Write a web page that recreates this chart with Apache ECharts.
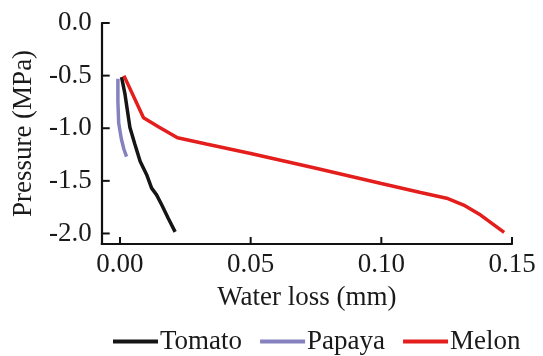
<!DOCTYPE html>
<html><head><meta charset="utf-8">
<script src="https://cdn.jsdelivr.net/npm/echarts@6/dist/echarts.min.js"></script>
<style>html,body{margin:0;padding:0;background:#fff}#c{width:543px;height:356px}</style>
</head><body><div id="c"></div>
<script>
const seriesNames = ["Tomato", "Papaya", "Melon"];
const tomato = [[0.0006,-0.515],[0.0019,-0.674],[0.0038,-0.994],[0.0057,-1.153],[0.0077,-1.313],[0.0102,-1.441],[0.0121,-1.569],[0.0140,-1.633],[0.0160,-1.729],[0.0185,-1.857],[0.0211,-1.985]];
const papaya = [[-0.0008,-0.53],[-0.0008,-0.75],[-0.0005,-0.95],[0.0005,-1.1],[0.0015,-1.2],[0.0025,-1.27]];
const melon = [[0.0015,-0.5],[0.009,-0.9],[0.015,-0.99],[0.022,-1.09],[0.033,-1.15],[0.05,-1.24],[0.075,-1.38],[0.1,-1.525],[0.115,-1.61],[0.125,-1.665],[0.1315,-1.73],[0.138,-1.825],[0.147,-1.99]];
const xTicks = [0, 0.05, 0.10, 0.15];
const yTicks = [0, -0.5, -1.0, -1.5, -2.0];
const colors = ["#151515", "#8682c0", "#e31e1c"];

const font = "Liberation Serif";
const fs = 27;
const X_MIN = -0.007, X_MAX = 0.15, Y_MIN = -2.1, Y_MAX = 0;
const TICK_X = 7, TICK_Y = 8;

// inward tick marks, placed through the chart's own coordinate system
function tickSeries(values, dim) {
  return {
    type:'custom', silent:true, clip:false, z:5,
    data: values.map(v => [v]),
    renderItem: (params, api) => {
      const v = api.value(0);
      let p, q;
      if (dim === 'x') {
        p = api.coord([v, Y_MIN]);
        q = [p[0], p[1] - TICK_X];
      } else {
        p = api.coord([X_MIN, v]);
        q = [p[0] + TICK_Y, p[1]];
      }
      return {type:'line', shape:{x1:p[0], y1:p[1], x2:q[0], y2:q[1]},
              style:{stroke:'#111', lineWidth:2}};
    }
  };
}

const chart = echarts.init(document.getElementById('c'), null, {renderer:'canvas'});
chart.setOption({
  animation:false,
  grid:{left:101.7, right:31, top:23, bottom:112, containLabel:false},
  legend:{
    data:seriesNames, left:108, top:323, itemWidth:45, itemHeight:4, itemGap:18,
    icon:'rect',
    textStyle:{fontFamily:font, fontSize:fs, color:'#1a1a1a', padding:[0,0,0,-3]}
  },
  xAxis:{
    type:'value', min:X_MIN, max:X_MAX,
    name:'Water loss (mm)', nameLocation:'middle', nameGap:40,
    nameTextStyle:{fontFamily:font, fontSize:fs, color:'#1a1a1a'},
    axisLine:{onZero:false, lineStyle:{color:'#111', width:2.2}},
    axisTick:{show:false},
    axisLabel:{fontFamily:font, fontSize:fs, color:'#1a1a1a', margin:7, customValues:xTicks,
      formatter:v=>v.toFixed(2)},
    splitLine:{show:false}
  },
  yAxis:{
    type:'value', min:Y_MIN, max:Y_MAX,
    name:'Pressure (MPa)', nameLocation:'middle', nameGap:64, nameRotate:90,
    nameTextStyle:{fontFamily:font, fontSize:fs, color:'#1a1a1a'},
    axisLine:{onZero:false, lineStyle:{color:'#111', width:2.2}},
    axisTick:{show:false},
    axisLabel:{fontFamily:font, fontSize:fs, color:'#1a1a1a', margin:10, customValues:yTicks,
      formatter:v=>v.toFixed(1)},
    splitLine:{show:false}
  },
  series:[
    {name:seriesNames[0], type:'line', data:tomato, showSymbol:false, symbol:'none', color:colors[0], lineStyle:{width:3.5, color:colors[0]}},
    {name:seriesNames[1], type:'line', data:papaya, showSymbol:false, symbol:'none', color:colors[1], lineStyle:{width:3.5, color:colors[1]}},
    {name:seriesNames[2], type:'line', data:melon, showSymbol:false, symbol:'none', color:colors[2], lineStyle:{width:3.5, color:colors[2]}},
    tickSeries(xTicks, 'x'),
    tickSeries(yTicks, 'y')
  ]
});
</script></body></html>
